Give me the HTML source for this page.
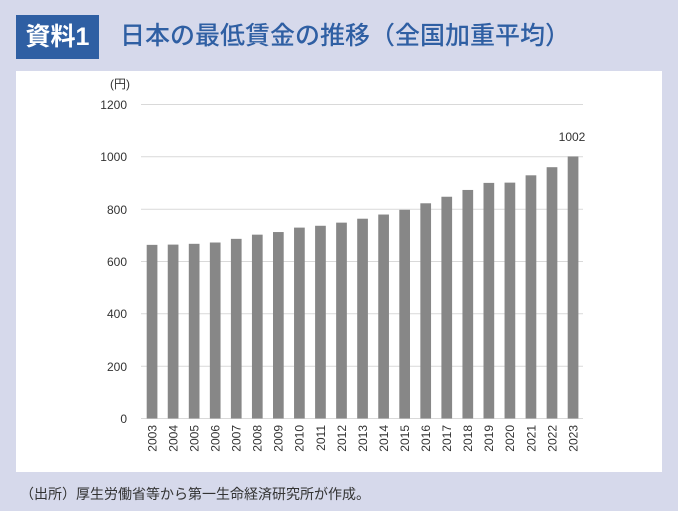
<!DOCTYPE html><html><head><meta charset="utf-8"><style>
body{margin:0;width:678px;height:511px;background:#d6d9eb;position:relative;overflow:hidden;font-family:"Liberation Sans","Noto Sans CJK JP",sans-serif}
.box{position:absolute;left:16px;top:15px;width:83px;height:44px;background:#2f5fa3;color:#fff;font-size:25px;line-height:44px;text-align:center;font-weight:bold}
.title{position:absolute;left:120px;top:18px;font-size:25px;color:#2f5fa3;line-height:36px;font-weight:500}
.panel{position:absolute;left:16px;top:71px;width:646px;height:401px;background:#fff}
.foot{position:absolute;left:20px;top:484px;font-size:14px;color:#333}
</style></head><body>
<div class="box">資料1</div>
<div class="title">日本の最低賃金の推移（全国加重平均）</div>
<div class="panel"></div>
<svg style="position:absolute;left:0;top:0" width="678" height="511" font-family="Liberation Sans, Noto Sans CJK JP, sans-serif" font-size="12" fill="#333">
<text x="110" y="88" font-size="12">(円)</text>
<g stroke="#d9d9d9" stroke-width="1">
<line x1="141" x2="583" y1="104.5" y2="104.5"/><line x1="141" x2="583" y1="156.8" y2="156.8"/><line x1="141" x2="583" y1="209.2" y2="209.2"/><line x1="141" x2="583" y1="261.5" y2="261.5"/><line x1="141" x2="583" y1="313.8" y2="313.8"/><line x1="141" x2="583" y1="366.2" y2="366.2"/><line x1="141" x2="583" y1="418.5" y2="418.5"/>
</g>
<g text-anchor="end"><text x="127" y="109">1200</text><text x="127" y="161">1000</text><text x="127" y="214">800</text><text x="127" y="266">600</text><text x="127" y="318">400</text><text x="127" y="371">200</text><text x="127" y="423">0</text></g>
<g id="bars" fill="#878787"></g>
<g id="labs" text-anchor="end"></g>
<text x="572" y="141" text-anchor="middle">1002</text>
</svg>
<div class="foot">（出所）厚生労働省等から第一生命経済研究所が作成。</div>
<script>
var v=[664,665,668,673,687,703,713,730,737,749,764,780,798,823,848,874,901,902,930,961,1002];
var b=document.getElementById('bars'),l=document.getElementById('labs'),ns='http://www.w3.org/2000/svg';
v.forEach(function(d,i){var x=146.7+i*21.05,h=d*0.2615;
var r=document.createElementNS(ns,'rect');r.setAttribute('x',x);r.setAttribute('width',10.7);r.setAttribute('y',418.5-h);r.setAttribute('height',h);b.appendChild(r);
var t=document.createElementNS(ns,'text');var cx=x+5.35+4.3;t.setAttribute('transform','translate('+cx+',425) rotate(-90)');t.textContent=2003+i;l.appendChild(t);});
</script>
</body></html>
